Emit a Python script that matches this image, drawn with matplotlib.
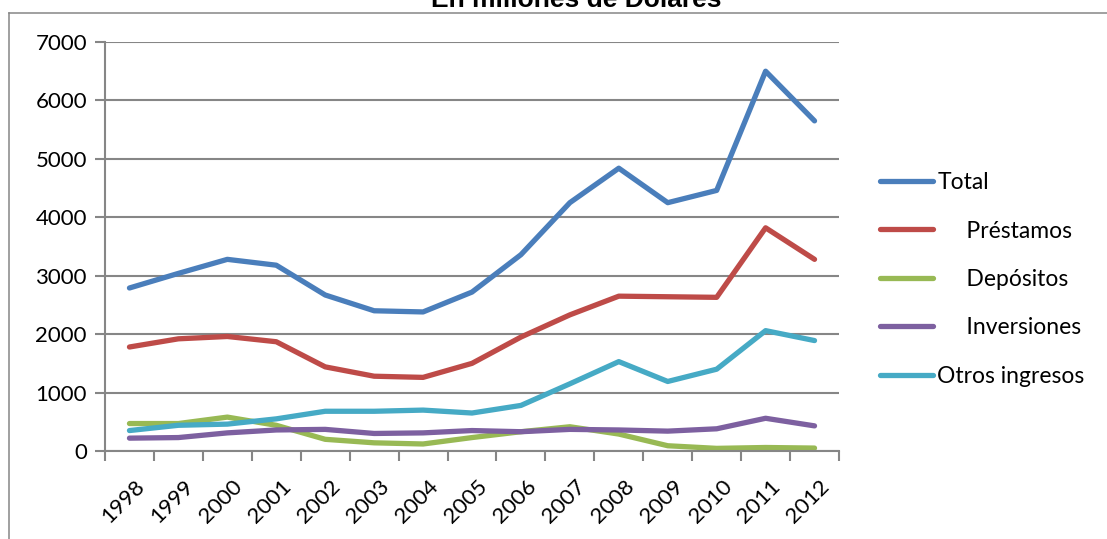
import matplotlib
matplotlib.use("Agg")
import matplotlib.pyplot as plt
import matplotlib.transforms as mtransforms
from matplotlib.lines import Line2D

# data (millions of dollars)
years = ["1998", "1999", "2000", "2001", "2002", "2003", "2004", "2005",
         "2006", "2007", "2008", "2009", "2010", "2011", "2012"]
total = [2790, 3040, 3280, 3180, 2670, 2400, 2380, 2720, 3360, 4250, 4840, 4250, 4460, 6500, 5650]
prestamos = [1780, 1920, 1960, 1870, 1440, 1280, 1260, 1500, 1950, 2330, 2650, 2640, 2630, 3820, 3280]
depositos = [470, 470, 580, 440, 200, 140, 120, 230, 330, 415, 290, 90, 45, 60, 50]
inversiones = [220, 230, 310, 360, 370, 300, 310, 350, 330, 370, 360, 340, 380, 560, 430]
otros = [350, 440, 460, 550, 680, 680, 700, 650, 780, 1150, 1530, 1190, 1400, 2060, 1890]

labels = ["Total", "     Préstamos", "     Depósitos", "     Inversiones", "Otros ingresos"]
series = [total, prestamos, depositos, inversiones, otros]
colors = ["#4A7EBB", "#BE4B48", "#98B954", "#7D60A0", "#46AAC5"]

W, H = 1107, 539
fig = plt.figure(figsize=(W / 100, H / 100), dpi=100)
grey = "#868686"
fnt = "Lato"

ax = fig.add_axes([105 / W, 1 - 451 / H, (839 - 105) / W, (451 - 42) / H])
x = list(range(len(years)))
for vals, lab, c in zip(series, labels, colors):
    ax.plot(x, vals, color=c, lw=3.8, label=lab, solid_capstyle="round",
            solid_joinstyle="round")

ax.set_ylim(0, 7000)
ax.set_xlim(-0.5, len(years) - 0.5)
ax.set_yticks(range(0, 7001, 1000))
ax.grid(axis="y", color=grey, lw=1.5)
ax.set_axisbelow(True)
for s in ["top", "right"]:
    ax.spines[s].set_visible(False)
for s in ["left", "bottom"]:
    ax.spines[s].set_color(grey)
    ax.spines[s].set_linewidth(1.5)

# ticks at category boundaries, labels at centres
ax.set_xticks([i - 0.5 for i in range(len(years) + 1)])
ax.set_xticklabels([])
ax.set_xticks(x, minor=True)
ax.set_xticklabels(years, minor=True, rotation=45, ha="right", va="top",
                   rotation_mode="anchor", fontsize=16, family=fnt)
ax.tick_params(axis="x", which="minor", length=0, pad=18)
ax.tick_params(axis="x", which="major", length=7, color=grey, width=1.5)
ax.tick_params(axis="y", length=7, color=grey, width=1.5, labelsize=16, pad=6)
for t in ax.get_yticklabels():
    t.set_family(fnt)
shift = mtransforms.ScaledTranslation(5 / 100, 0, fig.dpi_scale_trans)
for t in ax.get_xticklabels(minor=True):
    t.set_transform(t.get_transform() + shift)

leg = ax.legend(loc="upper left", bbox_to_anchor=(880 / W, 1 - 172 / H),
                bbox_transform=fig.transFigure, frameon=False,
                prop={"family": fnt, "size": 16.5}, handlelength=2.3,
                handletextpad=0.2, labelspacing=1.2, borderpad=0, borderaxespad=0)
for h in leg.get_lines():
    h.set_linewidth(3.8)
    h.set_solid_capstyle("round")

fig.text(576 / W, 1 - 7 / H, "En millones de Dólares", ha="center", va="baseline",
         fontsize=19, fontweight="bold", family="Liberation Sans")

# outer chart frame, partly cut by the image edge
fig.add_artist(Line2D([8.5 / W, 1], [1 - 12.7 / H, 1 - 12.7 / H], color=grey, lw=1.1,
                      transform=fig.transFigure))
fig.add_artist(Line2D([8.5 / W, 8.5 / W], [0, 1 - 12.7 / H], color=grey, lw=1.1,
                      transform=fig.transFigure))

fig.savefig("out.png", dpi=100)
